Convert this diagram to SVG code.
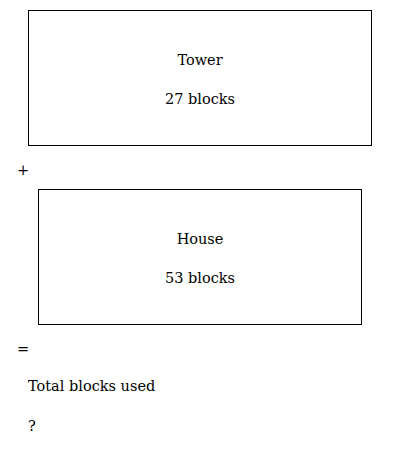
<svg xmlns="http://www.w3.org/2000/svg" width="400" height="452" viewBox="0 0 400 452">
<style>
.box{fill:#fff;stroke:#000;stroke-width:1}
text{font-family:"DejaVu Serif","Liberation Serif",serif;font-size:14.5px;fill:#000}
.c{text-anchor:middle}
</style>
<rect width="400" height="452" fill="#fff"/>
<g id="tower">
<rect class="box" x="28.5" y="10.5" width="343" height="135"/>
<text class="c" x="200" y="65">Tower</text>
<text class="c" x="200" y="104">27 blocks</text>
</g>
<text x="17" y="175">+</text>
<g id="house">
<rect class="box" x="38.5" y="189.5" width="323" height="135"/>
<text class="c" x="200" y="244">House</text>
<text class="c" x="200" y="283">53 blocks</text>
</g>
<text x="17" y="354">=</text>
<g id="total">
<text x="28" y="391">Total blocks used</text>
<text x="28" y="431">?</text>
</g>
<g id="connectors"></g>
</svg>
